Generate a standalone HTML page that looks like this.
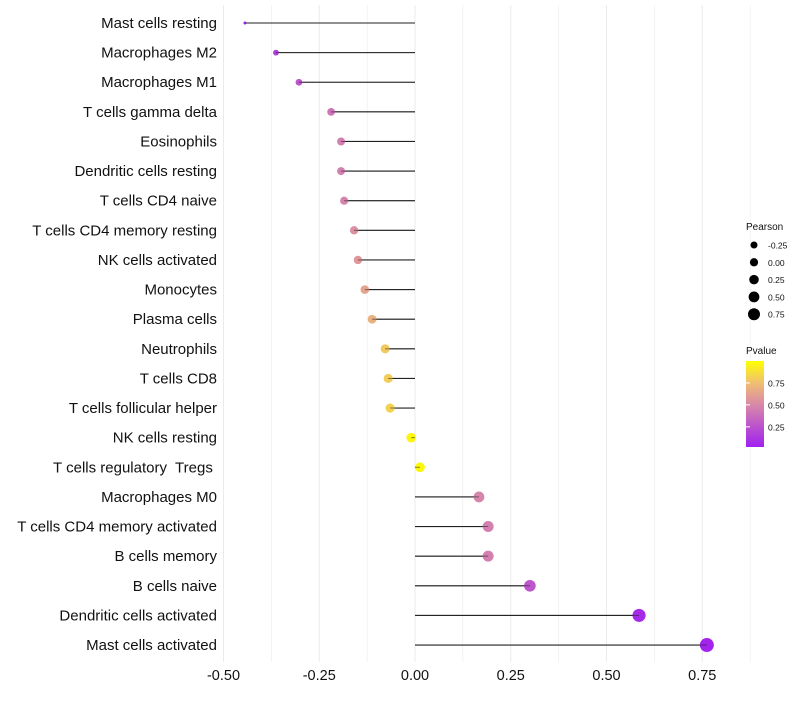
<!DOCTYPE html>
<html><head><meta charset="utf-8"><style>
body{margin:0;background:#fff;font-family:"Liberation Sans",sans-serif}
text{white-space:pre}
</style></head><body>
<svg id="c" width="800" height="700" xmlns="http://www.w3.org/2000/svg">
<defs><linearGradient id="pg" x1="0" y1="1" x2="0" y2="0">
<stop offset="0" stop-color="#a020f0"/><stop offset="0.5" stop-color="#d98aa8"/><stop offset="0.75" stop-color="#f0c070"/><stop offset="1" stop-color="#ffff00"/></linearGradient></defs>
</svg>
<script>
const categories=["Mast cells resting","Macrophages M2","Macrophages M1","T cells gamma delta","Eosinophils","Dendritic cells resting","T cells CD4 naive","T cells CD4 memory resting","NK cells activated","Monocytes","Plasma cells","Neutrophils","T cells CD8","T cells follicular helper","NK cells resting","T cells regulatory  Tregs ","Macrophages M0","T cells CD4 memory activated","B cells memory","B cells naive","Dendritic cells activated","Mast cells activated"];
const pearson=[-0.444,-0.363,-0.303,-0.219,-0.193,-0.193,-0.185,-0.159,-0.149,-0.131,-0.112,-0.078,-0.070,-0.065,-0.010,0.013,0.167,0.191,0.191,0.300,0.585,0.762];
const pvalue=[0.03,0.15,0.25,0.40,0.45,0.45,0.47,0.53,0.56,0.62,0.68,0.78,0.80,0.82,0.97,0.97,0.48,0.45,0.45,0.25,0.05,0.02];
const xTicks=[-0.5,-0.25,0,0.25,0.5,0.75];
const xTickLabels=["-0.50","-0.25","0.00","0.25","0.50","0.75"];
const sizeLegend=[-0.25,0,0.25,0.5,0.75];
const NS="http://www.w3.org/2000/svg",svg=document.getElementById('c');
const X=v=>415+v*383, Y=i=>23+i*29.62;
const pmin=Math.min(...pearson),pmax=Math.max(...pearson);
const R=v=>1.5+5.5*Math.sqrt(Math.max(0,(v-pmin)/(pmax-pmin)));
const RL=v=>3.5+2.5*(v+0.25);
function col(p){const st=[[0,[160,32,240]],[0.5,[217,138,168]],[0.75,[240,192,112]],[1,[255,255,0]]];
for(let k=1;k<st.length;k++){if(p<=st[k][0]){const a=st[k-1],b=st[k],t=(p-a[0])/(b[0]-a[0]);return 'rgb('+a[1].map((c,j)=>Math.round(c+(b[1][j]-c)*t)).join(',')+')';}}return 'rgb(255,255,0)';}
function el(t,a,txt){const e=document.createElementNS(NS,t);for(const k in a)e.setAttribute(k,a[k]);if(txt!==undefined)e.textContent=txt;svg.appendChild(e);return e;}
for(let v=-0.5;v<=0.876;v+=0.125){const e=el('line',{x1:X(v),x2:X(v),y1:5,y2:662,stroke:'#ebebeb','stroke-width':Math.abs(v*4-Math.round(v*4))<1e-6?1:0.6});

}
xTicks.forEach((v,i)=>{const t=el('text',{x:X(v),y:680,'text-anchor':'middle','font-size':14.5,fill:'#111'},xTickLabels[i]);

});
categories.forEach((c,i)=>{const y=Y(i);
const t=el('text',{x:217,y:y+5,'text-anchor':'end','font-size':15,fill:'#111'},c);


const l=el('line',{x1:X(0),x2:X(pearson[i]),y1:y,y2:y,stroke:'#333','stroke-width':1.1});


const d=el('circle',{cx:X(pearson[i]),cy:y,r:R(pearson[i]),fill:col(pvalue[i])});


const l2=el('line',{x1:X(0),x2:X(pearson[i]),y1:y,y2:y,stroke:'#111','stroke-width':1,'stroke-opacity':0.5});

});
const lt=el('text',{x:746,y:230,'font-size':10,fill:'#111'},'Pearson');


sizeLegend.forEach((v,i)=>{const y=245+i*17.3;
const d=el('circle',{cx:754,cy:y,r:RL(v),fill:'#000'});


const t=el('text',{x:768,y:y+3.5,'font-size':8.5,fill:'#111'},v.toFixed(2));

});
const pt=el('text',{x:746,y:354,'font-size':10,fill:'#111'},'Pvalue');


const bar=el('rect',{x:746,y:361,width:18,height:86,fill:'url(#pg)'});


[[0.75,"0.75"],[0.5,"0.50"],[0.25,"0.25"]].forEach(([p,s])=>{const y=447-(p-0.02)/0.98*86;
const tk=el('line',{x1:746,x2:750,y1:y,y2:y,stroke:'#fff'});


const t=el('text',{x:768,y:y+3.5,'font-size':8.5,fill:'#111'},s);

});
</script>
</body></html>
